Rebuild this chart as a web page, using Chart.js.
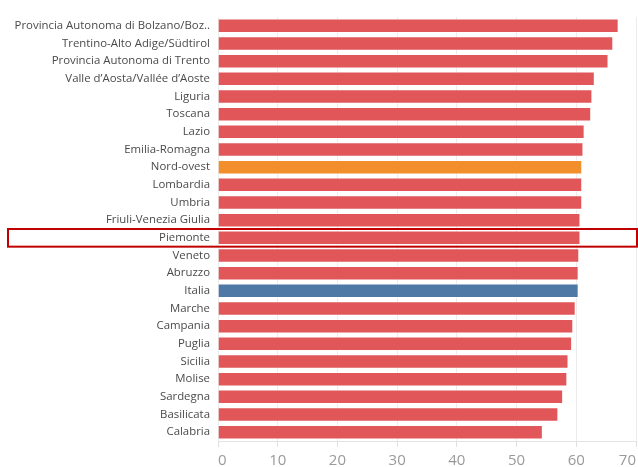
<!DOCTYPE html>
<html lang="it">
<head>
    <meta charset="UTF-8">
    <title>Regioni</title>
    <style>
        body {
            margin: 0;
            padding: 0;
            background: white;
        }

        .wrap {
            width: 638px;
            height: 467px;
        }
    </style>
</head>
<body>
    <div class="wrap">
        <canvas id="chart" width="638" height="467"></canvas>
    </div>

    <script src="https://cdn.jsdelivr.net/npm/chart.js"></script>
    <script>
        // Dati
        const regioni = [
            'Provincia Autonoma di Bolzano/Boz..',
            'Trentino-Alto Adige/Südtirol',
            'Provincia Autonoma di Trento',
            'Valle d\u2019Aosta/Vallée d\u2019Aoste',
            'Liguria',
            'Toscana',
            'Lazio',
            'Emilia-Romagna',
            'Nord-ovest',
            'Lombardia',
            'Umbria',
            'Friuli-Venezia Giulia',
            'Piemonte',
            'Veneto',
            'Abruzzo',
            'Italia',
            'Marche',
            'Campania',
            'Puglia',
            'Sicilia',
            'Molise',
            'Sardegna',
            'Basilicata',
            'Calabria'
        ];
        const valori = [
            67.1, 66.2, 65.4, 63.1, 62.7, 62.5, 61.4, 61.2, 61.0, 61.0, 61.0, 60.7,
            60.7, 60.5, 60.4, 60.4, 59.9, 59.5, 59.3, 58.7, 58.5, 57.8, 57.0, 54.4
        ];
        const tickValori = [0, 10, 20, 30, 40, 50, 60, 70];
        const evidenziata = 'Piemonte';

        // Colori
        const rosso = '#e15759';
        const arancio = '#f28e2b';
        const blu = '#4e79a7';

        const coloriBarre = regioni.map(r => {
            if (r === 'Nord-ovest') return arancio;
            if (r === 'Italia') return blu;
            return rosso;
        });

        // Riquadro rosso attorno alla riga evidenziata
        const boxPlugin = {
            id: 'boxRiga',
            afterDatasetsDraw(chart) {
                const y = chart.scales.y;
                const i = regioni.indexOf(evidenziata);
                if (i < 0) return;
                const half = (y.getPixelForValue(1) - y.getPixelForValue(0)) / 2;
                const cy = y.getPixelForValue(i);
                const c = chart.ctx;
                c.save();
                c.strokeStyle = '#c00000';
                c.lineWidth = 2;
                c.strokeRect(8, cy - half, chart.chartArea.right - 7, half * 2);
                c.restore();
            }
        };

        const ctx = document.getElementById('chart').getContext('2d');
        new Chart(ctx, {
            type: 'bar',
            data: {
                labels: regioni,
                datasets: [{
                    data: valori,
                    backgroundColor: coloriBarre,
                    borderColor: 'rgba(255,255,255,0.45)',
                    borderWidth: 1,
                    barPercentage: 0.82,
                    categoryPercentage: 1
                }]
            },
            plugins: [boxPlugin],
            options: {
                indexAxis: 'y',
                responsive: false,
                animation: false,
                layout: {
                    padding: { top: 17, right: 2, left: 0, bottom: 0 }
                },
                plugins: {
                    legend: { display: false },
                    tooltip: { enabled: false }
                },
                scales: {
                    x: {
                        min: 0,
                        max: 70,
                        afterBuildTicks(scale) {
                            scale.ticks = tickValori.map(v => ({ value: v }));
                        },
                        afterFit(scale) {
                            scale.height = 26;
                            scale.paddingRight = 0;
                            scale.paddingLeft = 0;
                        },
                        grid: {
                            color: '#ececec',
                            tickLength: 6,
                            tickColor: '#e0e0e0'
                        },
                        border: { color: '#e3e3e3' },
                        ticks: {
                            color: '#9a9a9a',
                            padding: 5,
                            align: 'inner',
                            font: { family: 'Open Sans', size: 15 }
                        }
                    },
                    y: {
                        afterFit(scale) {
                            scale.width = 218;
                        },
                        grid: { display: false, drawTicks: false },
                        border: { display: false },
                        ticks: {
                            color: '#4a4a4a',
                            padding: 8,
                            autoSkip: false,
                            font: { family: 'Open Sans', size: 11.4 }
                        }
                    }
                }
            }
        });
    </script>
</body>
</html>
